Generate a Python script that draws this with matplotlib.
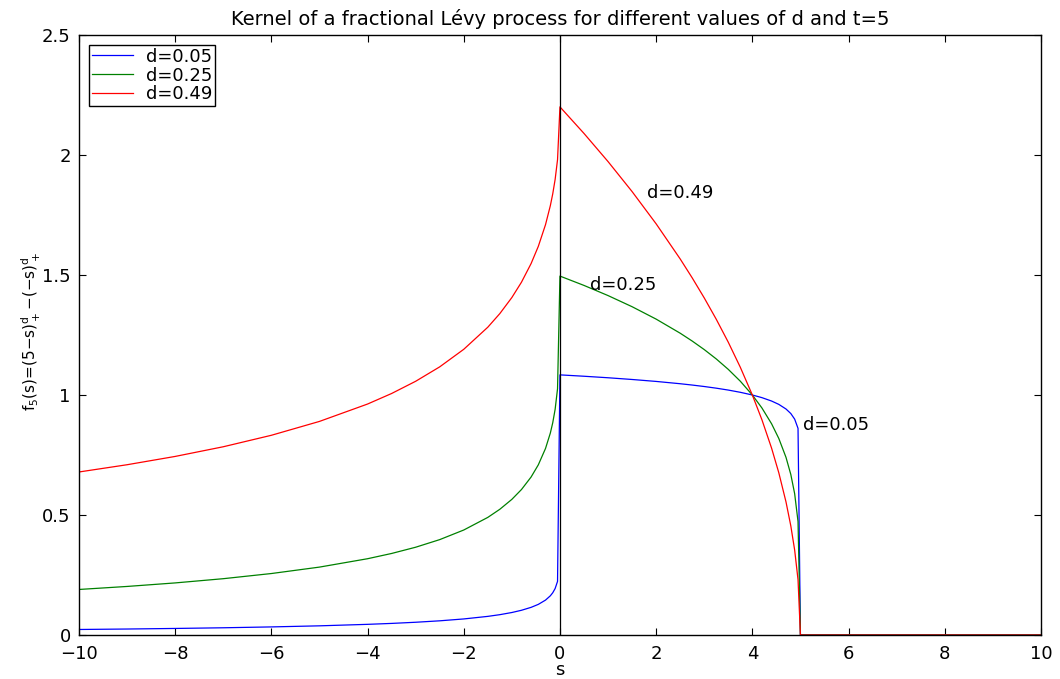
import numpy as np
import matplotlib
matplotlib.use('Agg')
import matplotlib.pyplot as plt

plt.rcParams['font.family'] = ['DejaVu Sans']
plt.rcParams['mathtext.fontset'] = 'dejavusans'

# s grid and kernel values
s_vals = [-10, -9, -8, -7, -6, -5, -4, -3.5, -3, -2.5, -2, -1.5, -1.25, -1, -0.8, -0.6,
          -0.45, -0.3, -0.2, -0.15, -0.1, -0.05, 0,
          0.5, 1, 1.5, 2, 2.5, 2.75, 3, 3.25, 3.5, 3.75, 4, 4.2, 4.4, 4.55, 4.7, 4.8,
          4.88, 4.95, 5, 10]

f_d005 = [0.0230, 0.0249, 0.0273, 0.0301, 0.0337, 0.0382, 0.0444, 0.0483, 0.0531, 0.0591,
          0.0669, 0.0776, 0.0847, 0.0937, 0.1030, 0.1152, 0.1276, 0.1454, 0.1633, 0.1759,
          0.1936, 0.2235, 1.0838,
          1.0781, 1.0718, 1.0646, 1.0565, 1.0469, 1.0414, 1.0353, 1.0284, 1.0205, 1.0112,
          1.0000, 0.9889, 0.9748, 0.9609, 0.9416, 0.9227, 0.8994, 0.8609, 0, 0]
f_d025 = [0.1897, 0.2023, 0.2170, 0.2346, 0.2561, 0.2829, 0.3178, 0.3397, 0.3657, 0.3974,
          0.4374, 0.4900, 0.5238, 0.5651, 0.6061, 0.6582, 0.7089, 0.7772, 0.8413, 0.8841,
          0.9404, 1.0262, 1.4954,
          1.4565, 1.4142, 1.3678, 1.3161, 1.2574, 1.2247, 1.1892, 1.1502, 1.1067, 1.0574,
          1.0000, 0.9457, 0.8801, 0.8190, 0.7401, 0.6687, 0.5886, 0.4729, 0, 0]
f_d049 = [0.6792, 0.7094, 0.7440, 0.7843, 0.8321, 0.8899, 0.9623, 1.0062, 1.0571, 1.1172,
          1.1903, 1.2824, 1.3391, 1.4060, 1.4699, 1.5475, 1.6191, 1.7097, 1.7886, 1.8378,
          1.8982, 1.9807, 2.2004,
          2.0897, 1.9725, 1.8475, 1.7131, 1.5668, 1.4879, 1.4045, 1.3155, 1.2198, 1.1155,
          1.0000, 0.8964, 0.7786, 0.6762, 0.5544, 0.4545, 0.3538, 0.2304, 0, 0]

labels = ['d=0.05', 'd=0.25', 'd=0.49']
colors = ['#0000ff', '#008000', '#ff0000']

xticks = [-10, -8, -6, -4, -2, 0, 2, 4, 6, 8, 10]
yticks = [0, 0.5, 1, 1.5, 2, 2.5]
ytick_labels = ['0', '0.5', '1', '1.5', '2', '2.5']

fig = plt.figure(figsize=(10.6, 6.79), dpi=100)
ax = fig.add_axes([0.0745, 0.0648, 0.9075, 0.8837])

for f, lab, c in zip([f_d005, f_d025, f_d049], labels, colors):
  ax.plot(s_vals, f, color=c, lw=0.9, label=lab)
ax.axvline(0, color='k', lw=0.9)

ax.text(1.8, 1.84, 'd=0.49', fontsize=13, va='center', ha='left')
ax.text(0.62, 1.46, 'd=0.25', fontsize=13, va='center', ha='left')
ax.text(5.05, 0.875, 'd=0.05', fontsize=13, va='center', ha='left')

ax.set_xlim(-10, 10)
ax.set_ylim(0, 2.5)
ax.set_xticks(xticks)
ax.set_yticks(yticks)
ax.set_yticklabels(ytick_labels)
ax.tick_params(direction='in', top=True, right=True, length=5, labelsize=13)
ax.tick_params(axis='x', pad=7)
ax.tick_params(axis='y', pad=6)
for sp in ax.spines.values():
  sp.set_linewidth(1.0)

ax.set_title('Kernel of a fractional L\u00e9vy process for different values of d and t=5',
             fontsize=14, pad=7)
ax.set_xlabel('s', fontsize=13, labelpad=-1)
ax.set_ylabel('f$_5$(s)=(5\u2212s)$_+^\\mathregular{d}$\u2212(\u2212s)$_+^\\mathregular{d}$',
              fontsize=11, labelpad=0)
ax.yaxis.set_label_coords(-0.037, 0.506)

leg = ax.legend(loc='upper left', fontsize=13, fancybox=False, edgecolor='k',
                framealpha=1, borderaxespad=0.55, handlelength=2.3, handletextpad=0.7,
                labelspacing=0.05, borderpad=0.15)
leg.get_frame().set_linewidth(1.0)

fig.savefig('out.png', dpi=100)
